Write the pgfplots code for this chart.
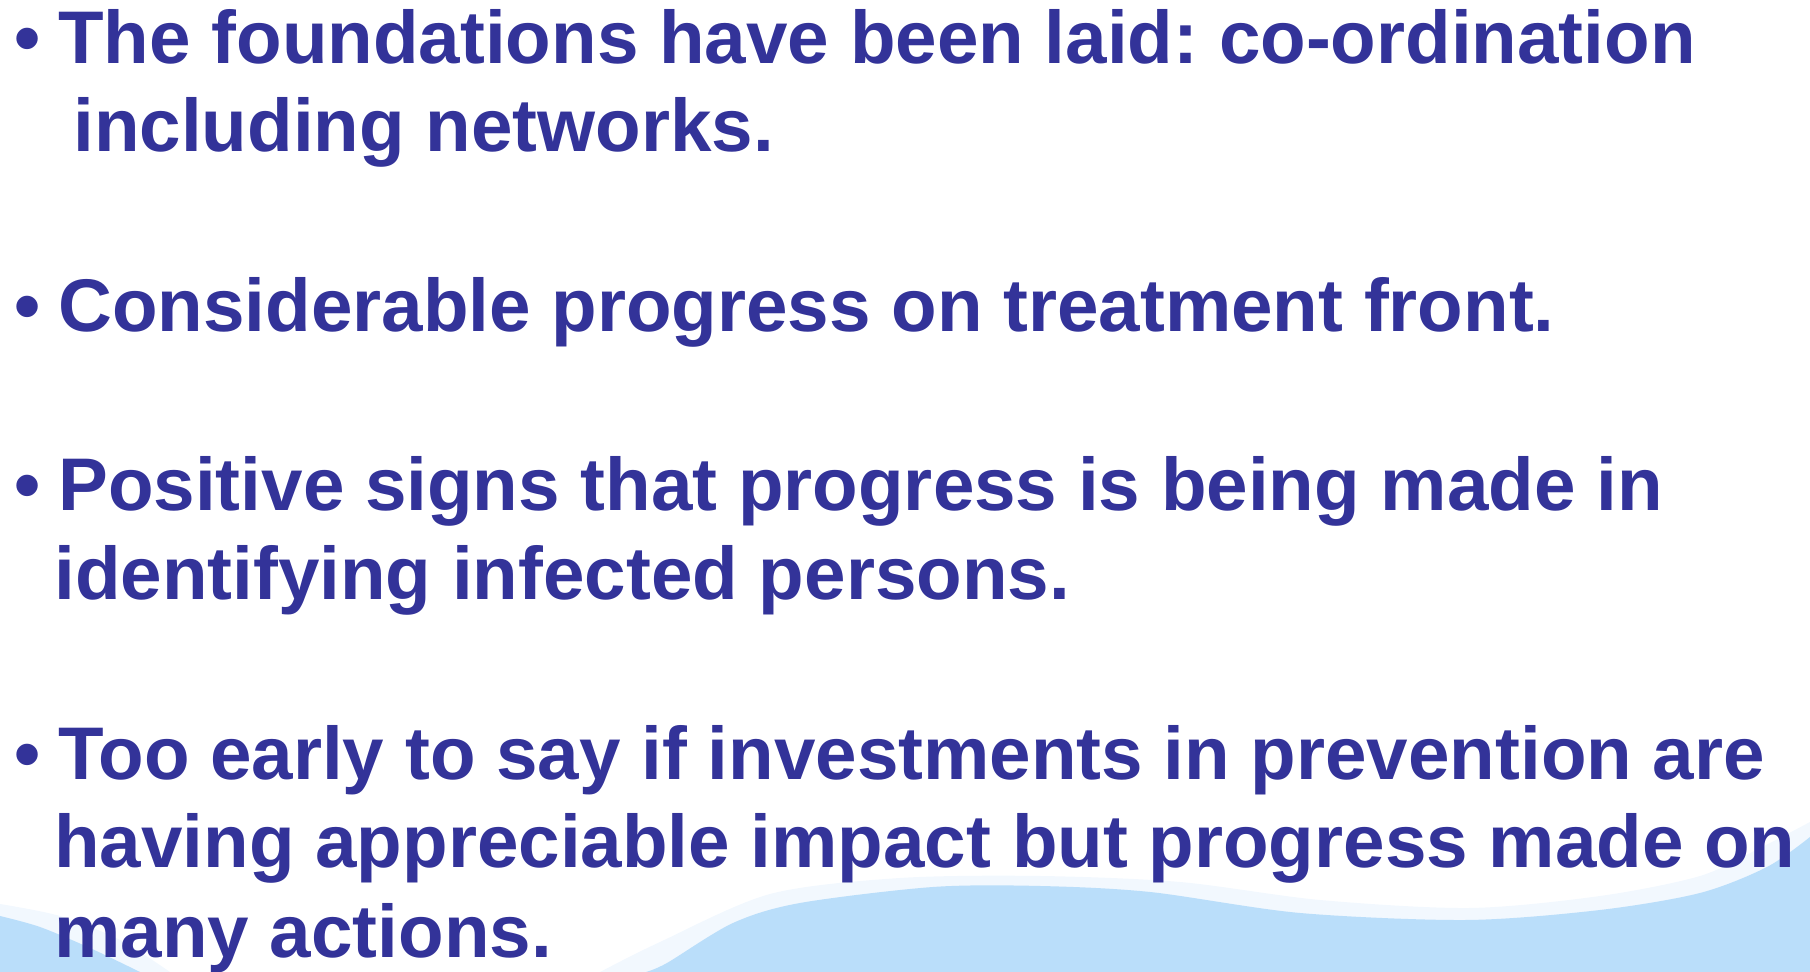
\documentclass[border=0pt]{standalone}
\usepackage{fontspec}
\setmainfont{Liberation Sans}
\usepackage{pgfplots}
\pgfplotsset{compat=1.18}
\definecolor{txt}{RGB}{51,51,153}
\definecolor{wave}{RGB}{186,222,250}
\definecolor{wavelight}{RGB}{242,248,254}
\frenchspacing
\begin{document}
\begin{tikzpicture}
\useasboundingbox (0,0) rectangle (905pt,486pt);
\begin{axis}[
  at={(0,0)}, anchor=south west,
  width=905pt, height=486pt, scale only axis,
  xmin=0, xmax=1810, ymin=0, ymax=972,
  hide axis,
]
% faint band above the wave
\addplot[fill=wavelight, draw=none, smooth] coordinates {
 (600,0) (660,30) (770,78) (900,94) (1040,96) (1180,90) (1320,72) (1470,64) (1600,76) (1700,96) (1760,124) (1810,150)} \closedcycle;
\addplot[fill=wavelight, draw=none, smooth] coordinates {
 (0,68) (60,56) (120,32) (170,0)} \closedcycle;
% main wave
\addplot[fill=wave, draw=none, smooth] coordinates {
 (646,0) (667,9) (733,49) (800,69) (933,85) (1040,86) (1150,80) (1300,59) (1467,52) (1600,62) (1700,79) (1767,105) (1810,135)} \closedcycle;
% left blob
\addplot[fill=wave, draw=none, smooth] coordinates {
 (0,56) (40,45) (90,24) (140,0)} \closedcycle;
\begin{scope}[every node/.style={anchor=base west, inner sep=0pt, text=txt, font=\fontsize{37.3}{44}\selectfont\bfseries\frenchspacing}]
\node at (axis cs:14,908) {•};
\node at (axis cs:58,908) {The foundations have been laid: co-ordination};
\node at (axis cs:73,820) {including networks.};
\node at (axis cs:14,640) {•};
\node at (axis cs:58,640) {Considerable progress on treatment front.};
\node at (axis cs:14,461) {•};
\node at (axis cs:58,461) {Positive signs that progress is being made in};
\node at (axis cs:54,372) {identifying infected persons.};
\node at (axis cs:14,192) {•};
\node at (axis cs:58,192) {Too early to say if investments in prevention are};
\node at (axis cs:54,104) {having appreciable impact but progress made on};
\node at (axis cs:54,14) {many actions.};
\end{scope}
\end{axis}
\end{tikzpicture}
\end{document}
